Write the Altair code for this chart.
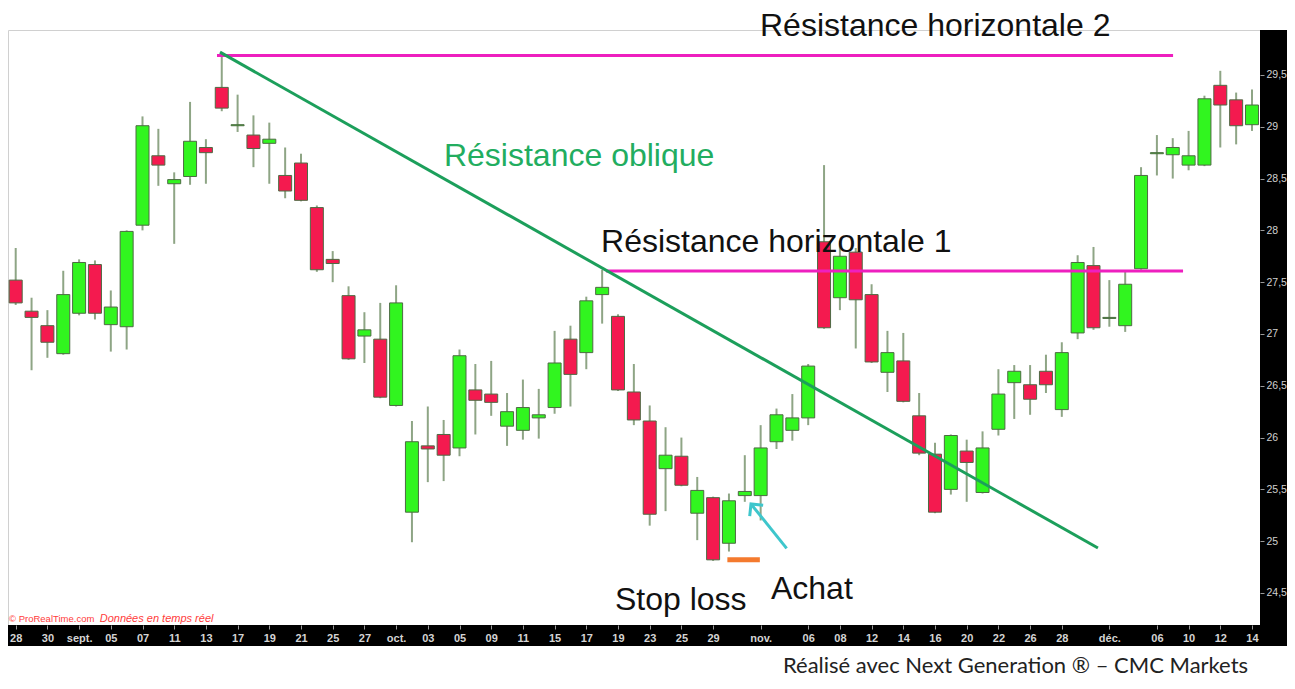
import altair as alt
import pandas as pd

# ---- candle data (trading-day index 0..78) ----
opens = [27.52, 27.22, 27.08, 26.81, 27.20, 27.67, 27.09, 27.07, 28.05, 28.72,
         28.45, 28.52, 28.80, 29.38, 29.01, 28.92, 28.84, 28.53, 28.65, 28.22,
         27.72, 27.37, 26.98, 26.95, 26.31, 25.28, 25.92, 26.03, 25.90, 26.46,
         26.42, 26.11, 26.07, 26.19, 26.29, 26.95, 26.82, 27.38, 27.17, 26.44,
         26.16, 25.70, 25.82, 25.27, 25.42, 24.98, 25.44, 25.44, 25.96, 26.07,
         26.19, 27.89, 27.35, 27.79, 27.38, 26.63, 26.74, 26.21, 25.84, 25.50,
         25.87, 25.47, 26.08, 26.53, 26.51, 26.64, 26.27, 27.01, 27.66, 27.15,
         27.08, 27.63, 28.74, 28.73, 28.63, 28.63, 29.40, 29.26, 29.02]
highs = [27.83, 27.35, 27.23, 27.61, 27.72, 27.71, 27.42, 28.00, 29.10, 28.98,
         28.56, 29.24, 28.88, 29.72, 29.31, 29.11, 29.04, 28.80, 28.74, 28.24,
         27.80, 27.46, 27.21, 27.30, 27.47, 26.16, 26.30, 26.17, 26.85, 26.71,
         26.74, 26.43, 26.56, 26.47, 27.03, 27.08, 27.36, 27.62, 27.19, 26.71,
         26.31, 26.10, 26.00, 25.62, 25.43, 25.46, 25.83, 26.12, 26.28, 26.42,
         26.71, 28.63, 27.90, 27.83, 27.48, 27.03, 27.01, 26.43, 25.95, 26.03,
         25.98, 26.06, 26.66, 26.70, 26.70, 26.80, 26.92, 27.76, 27.84, 27.52,
         27.60, 28.61, 28.92, 28.89, 28.96, 29.30, 29.54, 29.33, 29.36]
lows = [27.28, 26.65, 26.77, 26.80, 27.18, 27.14, 26.83, 26.85, 28.00, 28.43,
        27.87, 28.44, 28.45, 29.15, 28.95, 28.61, 28.45, 28.31, 28.28, 27.60,
        27.50, 26.75, 26.72, 26.38, 26.30, 24.99, 25.57, 25.58, 25.82, 26.03,
        26.21, 25.92, 25.98, 25.99, 26.23, 26.30, 26.66, 27.10, 26.45, 26.12,
        25.15, 25.29, 25.53, 25.01, 24.81, 24.90, 25.38, 25.20, 25.89, 25.97,
        26.12, 27.05, 27.23, 26.86, 26.72, 26.44, 26.34, 25.83, 25.27, 25.45,
        25.38, 25.46, 26.02, 26.18, 26.22, 26.43, 26.20, 26.95, 27.04, 27.07,
        27.02, 27.62, 28.53, 28.50, 28.58, 28.62, 28.80, 28.83, 28.96]
closes = [27.30, 27.16, 26.92, 27.38, 27.69, 27.20, 27.26, 27.99, 29.01, 28.63,
          28.49, 28.86, 28.75, 29.18, 29.02, 28.79, 28.88, 28.38, 28.29, 27.62,
          27.68, 26.76, 27.04, 26.39, 27.30, 25.96, 25.89, 25.83, 26.79, 26.36,
          26.34, 26.25, 26.29, 26.22, 26.72, 26.61, 27.32, 27.45, 26.46, 26.17,
          25.26, 25.83, 25.54, 25.49, 24.82, 25.39, 25.48, 25.90, 26.22, 26.19,
          26.69, 27.06, 27.75, 27.33, 26.73, 26.82, 26.35, 25.85, 25.28, 26.02,
          25.76, 25.90, 26.42, 26.64, 26.37, 26.51, 26.82, 27.69, 27.06, 27.16,
          27.48, 28.53, 28.75, 28.80, 28.72, 29.27, 29.21, 29.01, 29.21]
day_index = list(range(len(opens)))

# ---- axis ticks ----
tick_idx = [0, 2, 4, 6, 8, 10, 12, 14, 16, 18, 20, 22, 24, 26, 28, 30, 32, 34, 36,
            38, 40, 42, 44, 47, 50, 52, 54, 56, 58, 60, 62, 64, 66, 69, 72, 74, 76, 78]
tick_labels = ["28", "30", "sept.", "05", "07", "11", "13", "17", "19", "21", "25",
               "27", "oct.", "03", "05", "09", "11", "15", "17", "19", "23", "25",
               "29", "nov.", "06", "08", "12", "14", "16", "20", "22", "26", "28",
               "déc.", "06", "10", "12", "14"]
price_ticks = [24.5, 25.0, 25.5, 26.0, 26.5, 27.0, 27.5, 28.0, 28.5, 29.0, 29.5]

# ---- annotation lines ----
hres_x1 = [12.7, 37.24]
hres_x2 = [73.02, 73.65]
hres_y = [29.688, 27.608]
obl_x = [12.89, 68.28]
obl_y = [29.72, 24.934]
stop_x = [44.9, 46.95]
stop_y = [24.82, 24.82]
arrow_x = [48.64, 46.39]
arrow_y = [24.931, 25.359]

# ---- annotation texts ----
ann_text = ["Résistance horizontale 2", "Résistance horizontale 1", "Résistance oblique",
            "Stop loss", "Achat"]
ann_x = [46.96, 36.93, 27.02, 37.81, 47.65]
ann_y = [29.88, 27.79, 28.622, 24.336, 24.442]
ann_color = ["#111111", "#111111", "#22ad5f", "#111111", "#111111"]

W, H = 1252, 595
RIGHT = 27

df = pd.DataFrame({"i": day_index, "open": opens, "high": highs, "low": lows, "close": closes})
df["dir"] = ["up" if c >= o else "down" for o, c in zip(opens, closes)]

x_scale = alt.Scale(domain=[-0.486, 78.505], nice=False, zero=False, padding=0)
y_scale = alt.Scale(domain=[24.191, 29.934], nice=False, zero=False, padding=0)

label_expr = ("[" + ",".join("'" + l + "'" for l in tick_labels) + "][indexof(["
              + ",".join(str(t) for t in tick_idx) + "], datum.value)]")

x_axis = alt.Axis(values=tick_idx, labelExpr=label_expr, orient="bottom", title=None,
                  grid=False, domain=False, ticks=True, tickColor="#9a9a9a", tickSize=4,
                  tickWidth=1, labelColor="#d4d4d4", labelFont="Liberation Sans",
                  labelFontSize=11, labelFontWeight="bold", labelPadding=3,
                  labelFlush=False, labelOverlap=False, labelSeparation=0,
                  labelBound=False, zindex=1)
y_axis = alt.Axis(values=price_ticks,
                  labelExpr="replace(format(datum.value, '.1~f'), '.', ',')",
                  orient="right", title=None, grid=False, domain=False, ticks=True,
                  tickColor="#9a9a9a", tickSize=4, labelColor="#d0d0d0",
                  labelFont="Liberation Sans", labelFontSize=10.5, labelPadding=2,
                  labelFlush=False, labelOverlap=False, zindex=1)


def X(field):
    return alt.X(field, scale=x_scale, axis=x_axis)


def Y(field):
    return alt.Y(field, scale=y_scale, axis=y_axis)


one = pd.DataFrame({"k": [0]})
strip_bottom = alt.Chart(one).mark_rect(color="black").encode(
    x=alt.value(0), x2=alt.value(W + RIGHT), y=alt.value(H), y2=alt.value(H + 21))
strip_right = alt.Chart(one).mark_rect(color="black").encode(
    x=alt.value(W), x2=alt.value(W + RIGHT), y=alt.value(0), y2=alt.value(H))

wicks = alt.Chart(df).mark_rule(color="#8ea585", strokeWidth=2).encode(
    x=X("i:Q"), y=Y("low:Q"), y2="high:Q")

bodies = alt.Chart(df).mark_bar(width=13, stroke="#4d6a43", strokeWidth=1).encode(
    x=X("i:Q"), y=Y("open:Q"), y2="close:Q",
    color=alt.Color("dir:N", scale=alt.Scale(domain=["up", "down"],
                                             range=["#31f51f", "#f41a4f"]), legend=None))

hres_df = pd.DataFrame({"x1": hres_x1, "x2": hres_x2, "y": hres_y})
hres = alt.Chart(hres_df).mark_rule(color="#ee1fbf", strokeWidth=3).encode(
    x=X("x1:Q"), x2="x2:Q", y=Y("y:Q"))

obl_df = pd.DataFrame({"x": obl_x, "y": obl_y})
obl = alt.Chart(obl_df).mark_line(color="#1c9f5b", strokeWidth=3).encode(
    x=X("x:Q"), y=Y("y:Q"))

stop_df = pd.DataFrame({"x": stop_x, "y": stop_y})
stop = alt.Chart(stop_df).mark_line(color="#f47a2e", strokeWidth=5).encode(
    x=X("x:Q"), y=Y("y:Q"))

arrow_df = pd.DataFrame({"x": arrow_x, "y": arrow_y})
arrow_shaft = alt.Chart(arrow_df).mark_line(color="#3ec6cc", strokeWidth=3).encode(
    x=X("x:Q"), y=Y("y:Q"))
arrow_head = alt.Chart(arrow_df.iloc[[1]]).mark_point(
    shape="M-1,1L0,0L1,1", filled=False, strokeWidth=3, color="#3ec6cc",
    angle=321, size=300, opacity=1).encode(x=X("x:Q"), y=Y("y:Q"))

ann_df = pd.DataFrame({"t": ann_text, "x": ann_x, "y": ann_y, "c": ann_color})
ann = alt.Chart(ann_df).mark_text(align="left", baseline="alphabetic",
                                  font="Liberation Sans", fontSize=32).encode(
    x=X("x:Q"), y=Y("y:Q"), text="t:N", color=alt.Color("c:N", scale=None))

copy_df = pd.DataFrame({"t": ["© ProRealTime.com"], "x": [-0.42], "y": [24.22]})
copy1 = alt.Chart(copy_df).mark_text(align="left", baseline="alphabetic",
                                     font="Liberation Sans", fontSize=9.5,
                                     color="#ff3b3b").encode(
    x=X("x:Q"), y=Y("y:Q"), text="t:N")
copy2_df = pd.DataFrame({"t": ["Données en temps réel"], "x": [5.3], "y": [24.22]})
copy2 = alt.Chart(copy2_df).mark_text(align="left", baseline="alphabetic",
                                      font="Liberation Sans", fontSize=11,
                                      fontStyle="italic", color="#ff3b3b").encode(
    x=X("x:Q"), y=Y("y:Q"), text="t:N")

credit_df = pd.DataFrame({"t": ["Réalisé avec Next Generation ® – CMC Markets"],
                          "x": [48.41], "y": [23.728]})
credit = alt.Chart(credit_df).mark_text(align="left", baseline="alphabetic",
                                        font="Lato", fontSize=22,
                                        color="#222222").encode(
    x=X("x:Q"), y=Y("y:Q"), text="t:N")

chart = alt.layer(
    strip_bottom, strip_right, wicks, bodies, hres, obl, stop,
    arrow_shaft, arrow_head, ann, copy1, copy2, credit
).properties(
    width=W, height=H,
    autosize=alt.AutoSizeParams(type="none"),
    padding={"left": 0, "top": 22, "right": RIGHT, "bottom": 53},
    background="white"
).configure_view(stroke="#d0d0d0", strokeWidth=1).configure_axis(labelOverlap=False)

chart.save("out.html", embed_options={"renderer": "svg", "actions": False})
